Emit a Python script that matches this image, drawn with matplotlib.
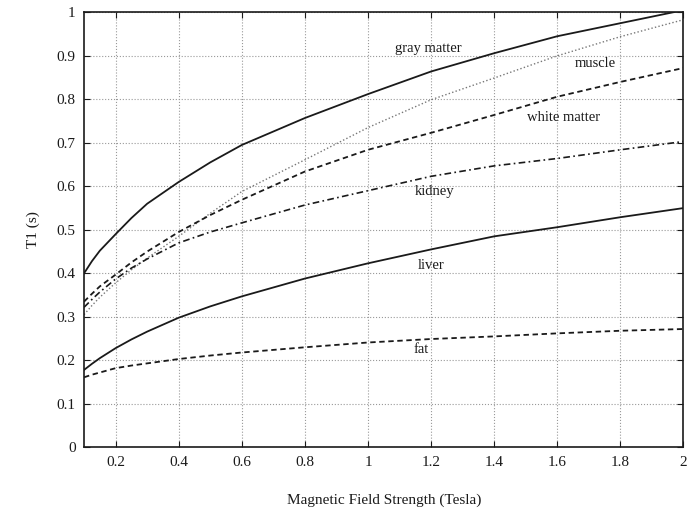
import matplotlib.pyplot as plt
from matplotlib.ticker import FuncFormatter

# ----------------------------
# Data
# ----------------------------

field = [0.1, 0.125, 0.15, 0.2, 0.25, 0.3, 0.4, 0.5, 0.6, 0.8, 1.0, 1.2, 1.4, 1.6, 1.8, 2.0]

gray_matter = [0.400, 0.428, 0.452, 0.490, 0.527, 0.560, 0.610, 0.655, 0.695, 0.757, 0.812,
               0.864, 0.906, 0.945, 0.975, 1.005]
muscle = [0.305, 0.326, 0.345, 0.378, 0.408, 0.435, 0.485, 0.538, 0.588, 0.661, 0.735,
          0.799, 0.849, 0.900, 0.944, 0.983]
white_matter = [0.335, 0.353, 0.370, 0.397, 0.425, 0.450, 0.495, 0.534, 0.569, 0.634, 0.684,
                0.723, 0.764, 0.806, 0.840, 0.872]
kidney = [0.322, 0.340, 0.357, 0.387, 0.412, 0.433, 0.470, 0.495, 0.516, 0.557, 0.590,
          0.623, 0.647, 0.664, 0.684, 0.703]
liver = [0.178, 0.192, 0.205, 0.228, 0.248, 0.266, 0.298, 0.324, 0.347, 0.388, 0.423,
         0.455, 0.485, 0.506, 0.529, 0.550]
fat = [0.161, 0.167, 0.172, 0.182, 0.188, 0.193, 0.203, 0.211, 0.218, 0.230, 0.241,
       0.249, 0.255, 0.262, 0.268, 0.272]

labels = ["gray matter", "muscle", "white matter", "kidney", "liver", "fat"]
label_x = [1.19, 1.72, 1.62, 1.21, 1.20, 1.17]
label_y = [0.916, 0.882, 0.758, 0.588, 0.418, 0.224]

x_ticks = [0.2, 0.4, 0.6, 0.8, 1.0, 1.2, 1.4, 1.6, 1.8, 2.0]
y_ticks = [0, 0.1, 0.2, 0.3, 0.4, 0.5, 0.6, 0.7, 0.8, 0.9, 1.0]

# ----------------------------
# Figure
# ----------------------------

plt.rcParams["font.family"] = ["Liberation Serif", "DejaVu Serif"]

fig = plt.figure(figsize=(6.89, 5.13), dpi=100)
ax = fig.add_axes([0.122, 0.128, 0.870, 0.848])

ink = "#1a1a1a"

ax.plot(field, gray_matter, color=ink, linewidth=1.3, linestyle="-")
ax.plot(field, muscle, color="#777777", linewidth=1.0, linestyle=(0, (1, 1.6)))
ax.plot(field, white_matter, color=ink, linewidth=1.3, linestyle=(0, (3, 2)))
ax.plot(field, kidney, color=ink, linewidth=1.2, linestyle=(0, (4, 2, 1, 2)))
ax.plot(field, liver, color=ink, linewidth=1.3, linestyle="-")
ax.plot(field, fat, color=ink, linewidth=1.3, linestyle=(0, (3, 2)))

for text, tx, ty in zip(labels, label_x, label_y):
    ax.text(tx, ty, text, ha="center", va="center", fontsize=10.5, color=ink)

ax.set_xlim(0.1, 2.0)
ax.set_ylim(0, 1)
ax.set_xticks(x_ticks)
ax.set_yticks(y_ticks)

fmt = FuncFormatter(lambda v, pos: f"{v:g}")
ax.xaxis.set_major_formatter(fmt)
ax.yaxis.set_major_formatter(fmt)

ax.tick_params(direction="in", top=True, right=True, length=4,
               labelsize=11, colors=ink, pad=6)
ax.grid(True, color="#999999", linestyle=":", linewidth=0.8)

for spine in ax.spines.values():
    spine.set_linewidth(1.2)
    spine.set_color(ink)

ax.set_xlabel("Magnetic Field Strength (Tesla)", fontsize=11, color=ink, labelpad=18)
ax.set_ylabel("T1 (s)", fontsize=11, color=ink, labelpad=12)

fig.savefig("out.png", dpi=100)
